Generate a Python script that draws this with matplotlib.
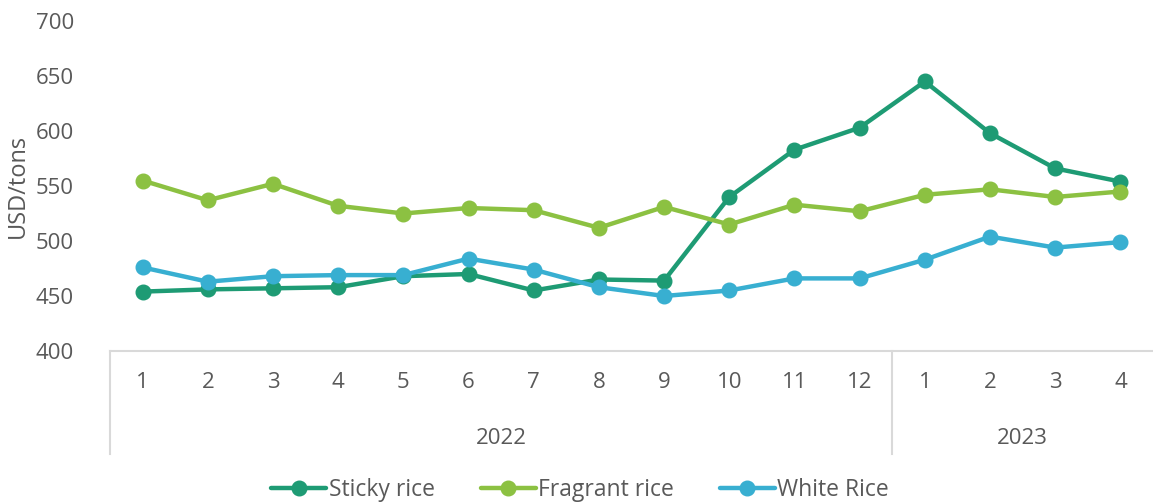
import matplotlib.pyplot as plt
from matplotlib.lines import Line2D

plt.rcParams['font.family'] = ['Open Sans', 'DejaVu Sans']

months = ['1', '2', '3', '4', '5', '6', '7', '8', '9', '10', '11', '12', '1', '2', '3', '4']
years = ['2022', '2023']
year_counts = [12, 4]

sticky = [454, 456, 457, 458, 468, 470, 455, 465, 464, 540, 583, 603, 645, 598, 566, 554]
fragrant = [555, 537, 552, 532, 525, 530, 528, 512, 531, 515, 533, 527, 542, 547, 540, 545]
white = [476, 463, 468, 469, 469, 484, 474, 458, 450, 455, 466, 466, 483, 504, 494, 499]

text_color = '#595959'
axis_color = '#d9d9d9'

fig = plt.figure(figsize=(11.53, 5.03), dpi=100)
ax = fig.add_axes([110 / 1153, 1 - 351 / 503, 1 - 110 / 1153, 330 / 503])

x = list(range(len(months)))
series = [('Sticky rice', sticky, '#1e9b74'),
          ('Fragrant rice', fragrant, '#8cc142'),
          ('White Rice', white, '#38afd1')]
for name, vals, col in series:
    ax.plot(x, vals, color=col, lw=3.2, marker='o', markersize=10.5, label=name,
            solid_capstyle='round', clip_on=False)

ax.set_xlim(-0.5, len(months) - 0.5)
ax.set_ylim(400, 700)
ax.set_yticks(range(400, 701, 50))
ax.tick_params(axis='y', length=0, labelsize=16, labelcolor=text_color, pad=26)
ax.set_xticks([])
for s in ['top', 'right', 'left']:
    ax.spines[s].set_visible(False)
ax.spines['bottom'].set_color(axis_color)
ax.spines['bottom'].set_linewidth(1.5)

ax.set_ylabel('USD/tons', fontsize=17, color=text_color, labelpad=4)

# month labels
trans = ax.get_xaxis_transform()
for i, m in enumerate(months):
    ax.text(i, -0.095, m, transform=trans, ha='center', va='center',
            fontsize=16, color=text_color)

# year labels and separators
sep_bottom = -(454 - 351) / 330
start = 0
bounds = [start - 0.5]
for yr, n in zip(years, year_counts):
    mid = start + (n - 1) / 2
    ax.text(mid, -0.265, yr, transform=trans, ha='center', va='center',
            fontsize=16, color=text_color)
    start += n
    bounds.append(start - 0.5)
for b in bounds[:-1]:
    ax.add_line(Line2D([b, b], [0, sep_bottom], transform=trans,
                       color=axis_color, lw=1.5, clip_on=False))

fig.legend(loc='center', bbox_to_anchor=(580 / 1153, 1 - 490 / 503), ncol=3,
           frameon=False, fontsize=16.5, labelcolor=text_color, handlelength=2.4,
           handletextpad=0.1, columnspacing=2.0)

fig.savefig('out.png', dpi=100)
